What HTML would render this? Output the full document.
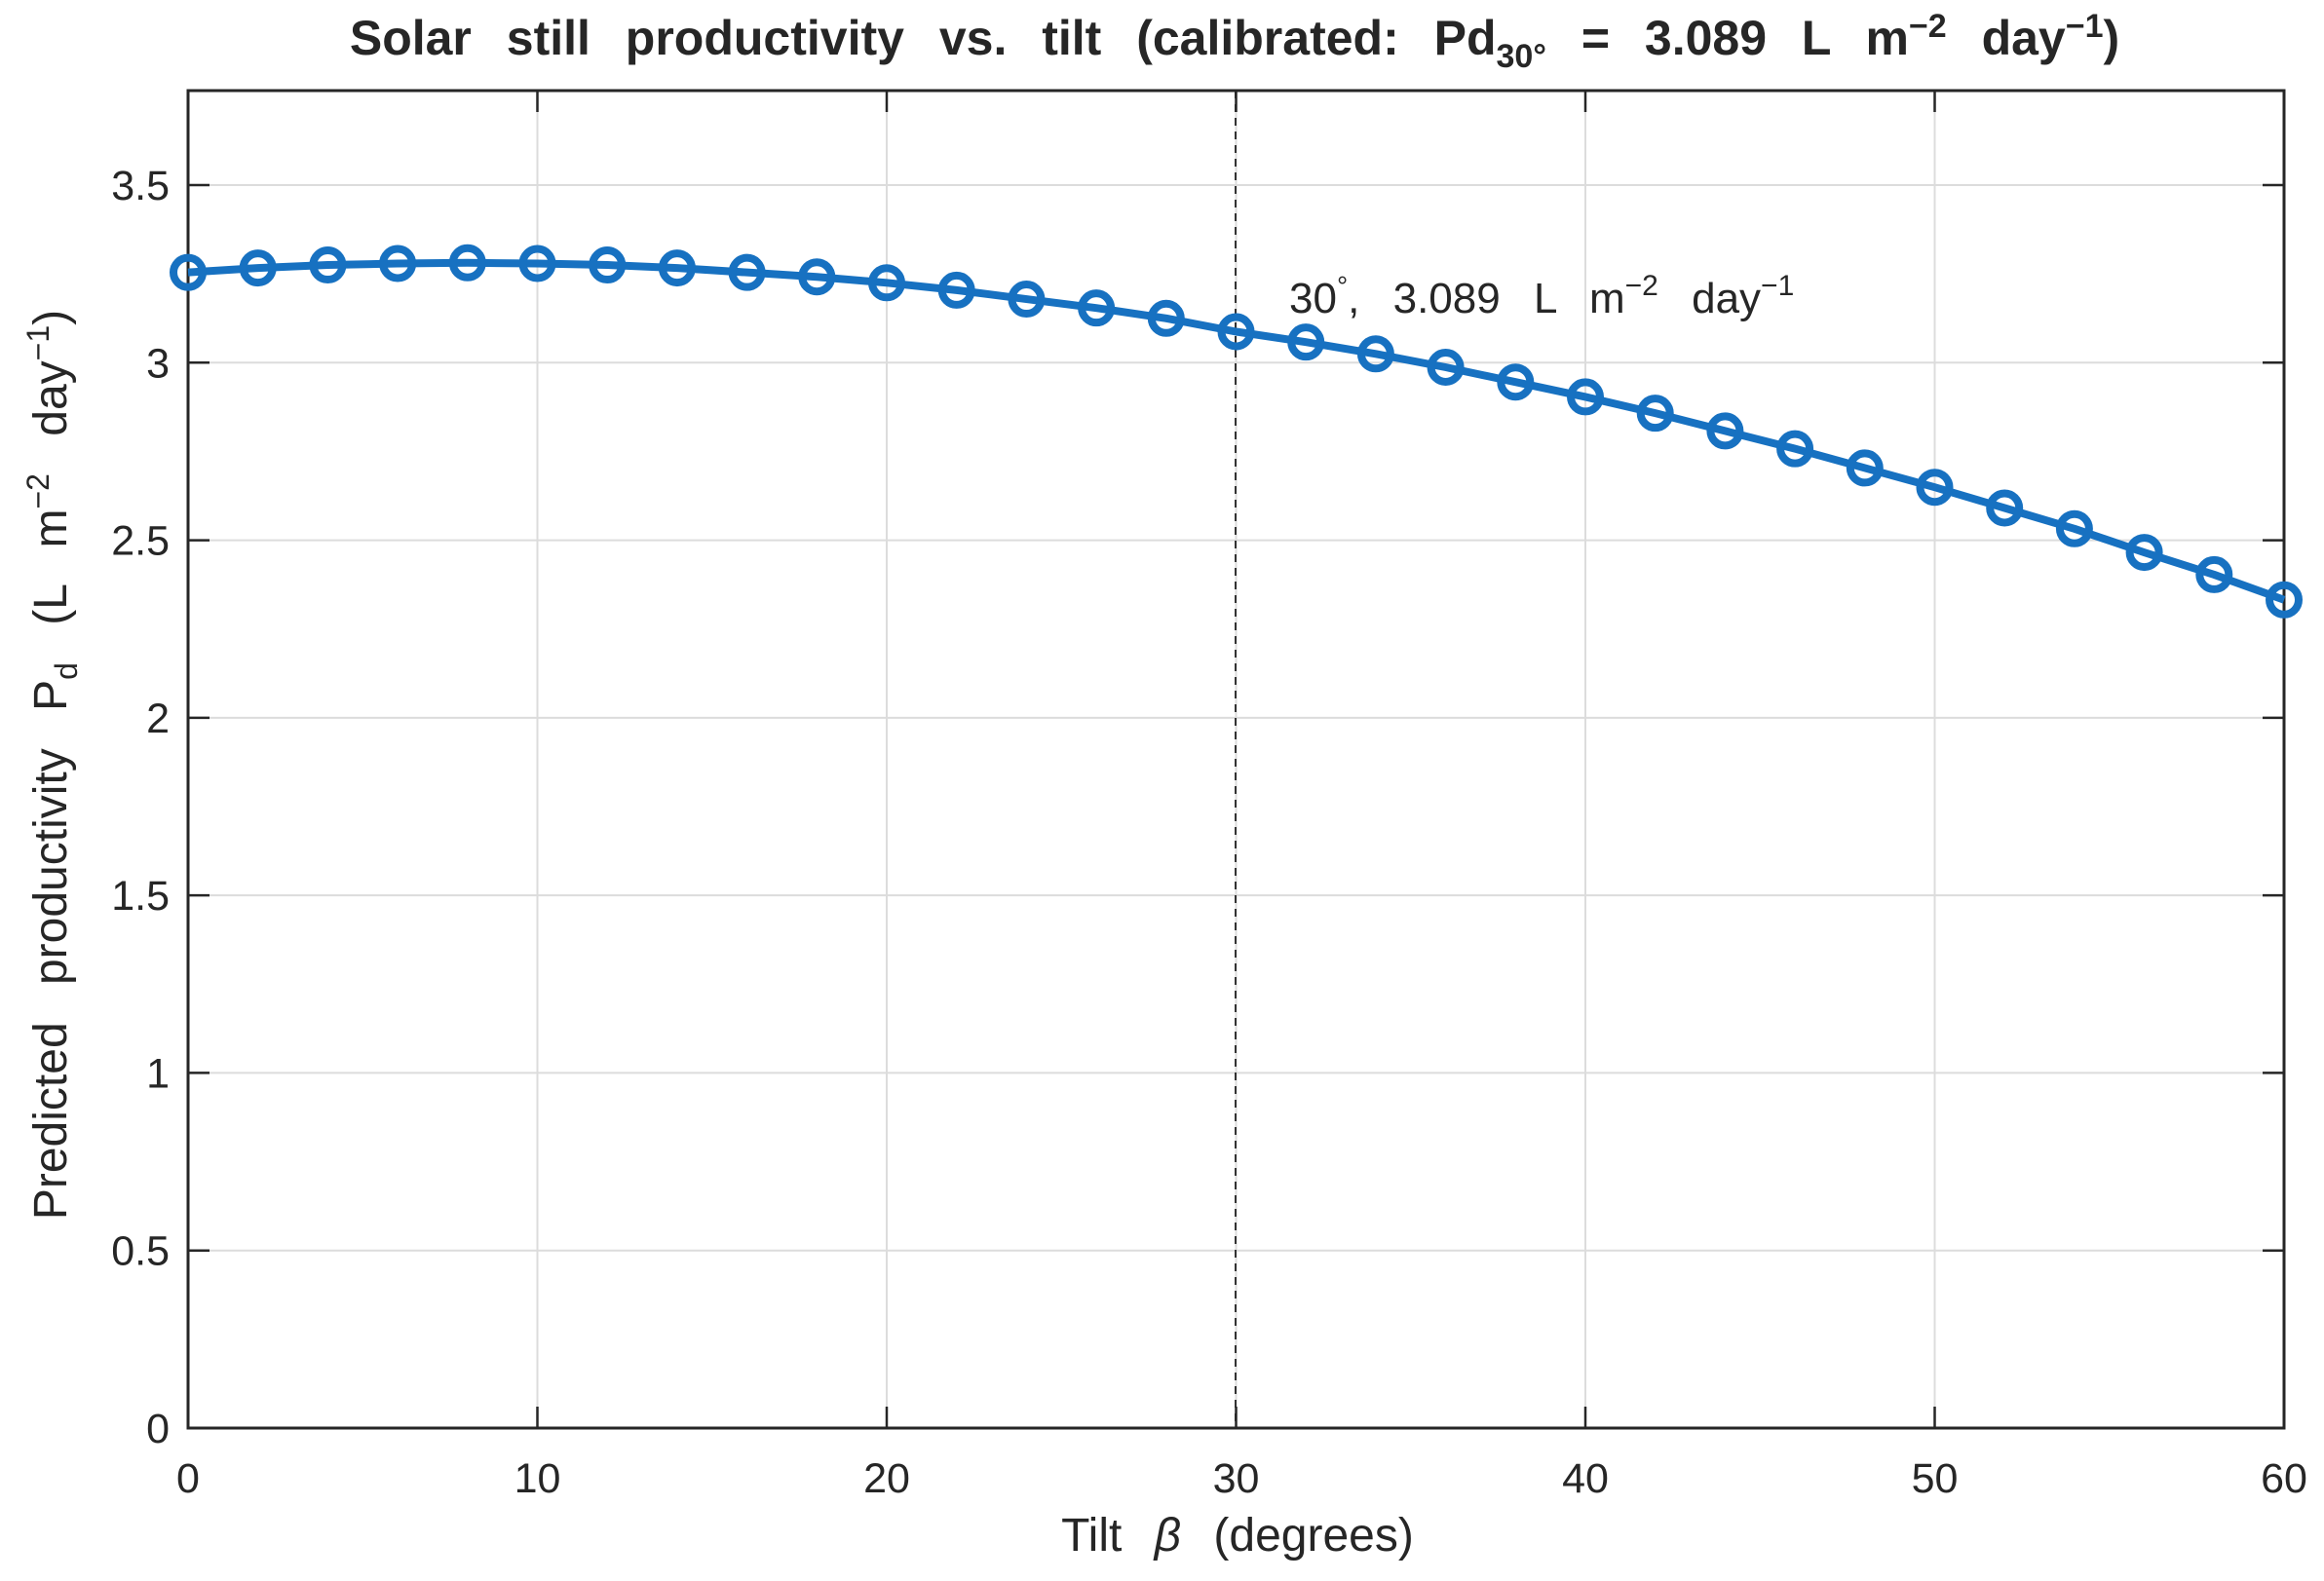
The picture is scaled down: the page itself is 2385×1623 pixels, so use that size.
<!DOCTYPE html>
<html><head><meta charset="utf-8"><style>
html,body{margin:0;padding:0;background:#fff;}
svg{display:block;font-family:"Liberation Sans",Arial,sans-serif;}
</style></head><body>
<svg id="s" width="2385" height="1623" viewBox="0 0 2385 1623" xmlns="http://www.w3.org/2000/svg">
<rect width="2385" height="1623" fill="#fff"/>
<g id="grid" stroke="#dcdcdc" stroke-width="2"></g>
<line x1="1268" y1="93" x2="1268" y2="1466" stroke="#333" stroke-width="2" stroke-dasharray="8,6"/>
<g id="ticks" stroke="#262626" stroke-width="2.5"></g>
<rect x="193" y="93" width="2151" height="1373" fill="none" stroke="#262626" stroke-width="3"/>
<polyline id="ln" fill="none" stroke="#1771c1" stroke-width="8" stroke-linejoin="round"/>
<g id="mk" fill="none" stroke="#1771c1" stroke-width="8"></g>
<g id="lab" fill="#262626" font-size="43"></g>
<text x="1267" y="56" text-anchor="middle" font-size="50" font-weight="bold" fill="#262626" word-spacing="22">Solar still productivity vs. tilt (calibrated: Pd<tspan font-size="34" dy="13">30°</tspan><tspan dy="-13"> = 3.089 L m</tspan><tspan font-size="34" dy="-18">−2</tspan><tspan dy="18"> day</tspan><tspan font-size="34" dy="-18">−1</tspan><tspan dy="18">)</tspan></text>
<text x="1323" y="321" font-size="44" fill="#262626" word-spacing="22">30<tspan font-size="28" dy="-18">°</tspan><tspan dy="18">, 3.089 L m</tspan><tspan font-size="30" dy="-18">−2</tspan><tspan dy="18"> day</tspan><tspan font-size="30" dy="-18">−1</tspan></text>
<text x="1270" y="1592" text-anchor="middle" font-size="48" fill="#262626" word-spacing="20">Tilt <tspan font-style="italic">β</tspan> (degrees)</text>
<text transform="translate(68,785) rotate(-90)" text-anchor="middle" font-size="48" fill="#262626" word-spacing="25">Predicted productivity P<tspan font-size="32" dy="11">d</tspan><tspan dy="-11"> (L m</tspan><tspan font-size="32" dy="-18">−2</tspan><tspan dy="18"> day</tspan><tspan font-size="32" dy="-18">−1</tspan><tspan dy="18">)</tspan></text>
</svg>
<script>
const L=193,R=2344,T=93,B=1466;
const X=v=>L+(R-L)*v/60;
const U=(1466-190)/3.5;
const Y=v=>B-U*v;
const ns="http://www.w3.org/2000/svg";
function el(p,t,a,txt){const e=document.createElementNS(ns,t);for(const k in a)e.setAttribute(k,a[k]);if(txt!=null)e.textContent=txt;document.getElementById(p).appendChild(e);}
for(let i=1;i<6;i++){el('grid','line',{x1:X(i*10),x2:X(i*10),y1:T,y2:B});}
for(let i=1;i<=7;i++){el('grid','line',{x1:L,x2:R,y1:Y(i*0.5),y2:Y(i*0.5)});}
for(let i=0;i<=6;i++){const x=X(i*10);el('ticks','line',{x1:x,x2:x,y1:B,y2:B-22});el('ticks','line',{x1:x,x2:x,y1:T,y2:T+22});
 el('lab','text',{x:x,y:1532,'text-anchor':'middle'},String(i*10));}
const yl=['0','0.5','1','1.5','2','2.5','3','3.5'];
for(let i=0;i<=7;i++){const y=Y(i*0.5);el('ticks','line',{x1:L,x2:L+22,y1:y,y2:y});el('ticks','line',{x1:R,x2:R-22,y1:y,y2:y});
 el('lab','text',{x:174,y:y+15,'text-anchor':'end'},yl[i]);}
const dy=[184,181,179,178,177.5,178,179,181,184,187,191,196,202,208,215,224,231,239,248,258,268,279,291,303,316,329,343,357,373,388,405];
let pts=[];
dy.forEach((d,i)=>{const v=(964-d)/239.7;const x=X(i*2),y=Y(v);pts.push(x+','+y);el('mk','circle',{cx:x,cy:y,r:15});});
document.getElementById('ln').setAttribute('points',pts.join(' '));
</script>
</body></html>
